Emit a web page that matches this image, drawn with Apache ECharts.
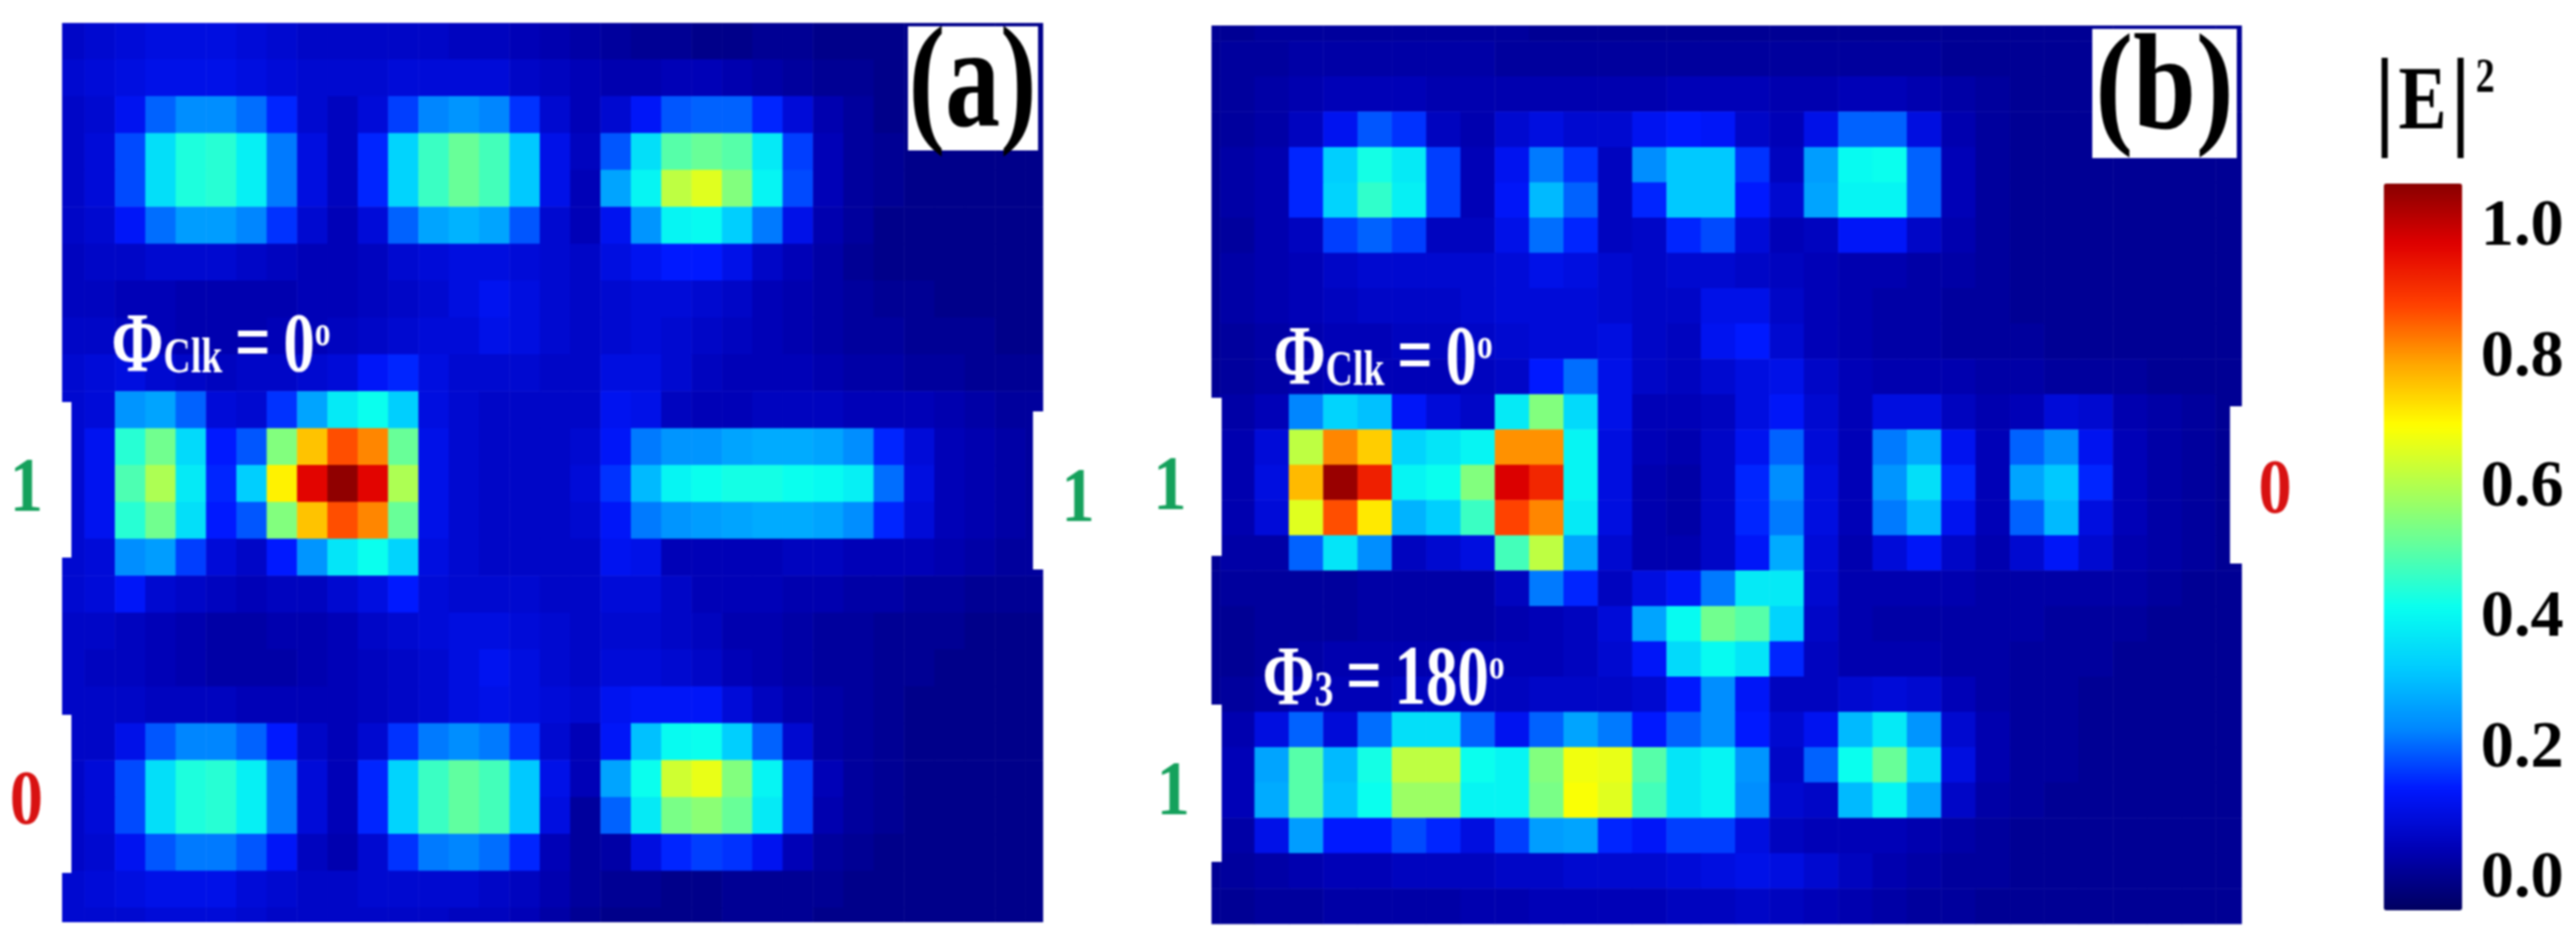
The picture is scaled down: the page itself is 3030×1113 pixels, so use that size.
<!DOCTYPE html>
<html>
<head>
<meta charset="utf-8">
<title>E field maps</title>
<style>
html, body { margin: 0; padding: 0; background: #fff; }
#chart { width: 3030px; height: 1113px; filter: blur(1px); }
</style>
<script src="https://cdn.jsdelivr.net/npm/echarts@6/dist/echarts.min.js"></script>
</head>
<body>
<div id="chart"></div>
<script>
// |E|^2, one list per row, top row first
var panelA = [
	[.07,.08,.09,.1,.1,.1,.09,.08,.07,.07,.07,.07,.07,.06,.06,.05,.04,.03,.02,.01,.01,0,0,.01,.01,0,0,0,0,0,0,0,0],
	[.08,.09,.1,.11,.11,.11,.1,.09,.08,.08,.08,.09,.09,.09,.09,.07,.06,.05,.04,.04,.05,.05,.04,.03,.02,.01,.01,0,0,0,0,0,0],
	[.07,.08,.12,.2,.24,.24,.21,.15,.08,.06,.09,.17,.23,.25,.23,.16,.08,.05,.08,.13,.19,.2,.2,.15,.09,.04,.02,0,0,0,0,0,0],
	[.07,.09,.18,.36,.44,.45,.39,.22,.1,.06,.15,.34,.47,.52,.48,.32,.11,.06,.19,.36,.5,.52,.5,.38,.17,.05,.02,.01,0,0,0,0,0],
	[.07,.09,.18,.36,.44,.45,.39,.22,.1,.06,.15,.34,.47,.52,.48,.32,.11,.05,.27,.4,.62,.66,.55,.4,.18,.05,.02,.01,0,0,0,0,0],
	[.07,.08,.13,.21,.26,.26,.23,.16,.08,.05,.09,.2,.27,.29,.27,.19,.08,.05,.12,.25,.4,.41,.33,.22,.11,.04,.02,0,0,0,0,0,0],
	[.06,.07,.07,.08,.08,.08,.07,.06,.05,.05,.06,.08,.09,.1,.1,.09,.08,.07,.1,.12,.14,.14,.11,.07,.05,.03,.01,0,0,0,0,0,0],
	[.06,.06,.05,.05,.04,.04,.04,.04,.05,.05,.06,.07,.08,.1,.12,.1,.08,.07,.08,.09,.09,.08,.07,.05,.04,.03,.02,.01,.01,0,0,0,0],
	[.07,.07,.06,.05,.04,.04,.04,.05,.05,.06,.07,.08,.09,.09,.11,.1,.08,.07,.08,.09,.08,.07,.06,.05,.04,.03,.02,.02,.01,.01,.01,0,0],
	[.08,.09,.1,.08,.07,.06,.07,.07,.08,.09,.13,.15,.1,.08,.08,.08,.07,.07,.1,.1,.08,.06,.05,.05,.05,.04,.03,.03,.02,.02,.01,.01,.01],
	[.08,.09,.25,.27,.2,.09,.08,.16,.27,.38,.42,.33,.1,.08,.07,.07,.07,.07,.12,.11,.06,.05,.05,.06,.06,.06,.05,.05,.05,.04,.03,.02,.02],
	[.08,.12,.45,.53,.35,.14,.19,.55,.76,.87,.82,.52,.11,.08,.07,.07,.07,.08,.13,.22,.25,.25,.27,.28,.28,.27,.24,.15,.09,.05,.04,.03,.02],
	[.08,.12,.49,.6,.38,.15,.33,.71,.97,1.06,.97,.6,.11,.08,.07,.07,.07,.09,.16,.3,.4,.42,.43,.43,.42,.41,.39,.21,.1,.05,.04,.03,.02],
	[.08,.12,.45,.53,.36,.14,.19,.55,.76,.87,.82,.52,.11,.08,.07,.07,.07,.08,.13,.22,.25,.26,.27,.28,.28,.27,.24,.15,.09,.05,.04,.03,.02],
	[.08,.09,.24,.26,.17,.09,.07,.14,.25,.37,.42,.34,.1,.08,.07,.07,.07,.07,.12,.11,.05,.05,.05,.05,.06,.06,.05,.05,.05,.04,.03,.02,.02],
	[.08,.09,.13,.08,.07,.06,.05,.06,.06,.08,.1,.14,.09,.08,.08,.08,.07,.07,.09,.09,.07,.05,.05,.05,.04,.04,.03,.03,.02,.02,.01,.01,.01],
	[.07,.07,.06,.05,.04,.03,.03,.04,.04,.05,.07,.08,.09,.1,.1,.09,.08,.07,.08,.08,.07,.06,.04,.04,.03,.02,.02,.01,.01,.01,0,0,0],
	[.07,.06,.06,.05,.04,.03,.03,.03,.04,.05,.06,.07,.08,.1,.12,.1,.08,.07,.09,.09,.08,.07,.05,.04,.03,.02,.02,.01,.01,0,0,0,0],
	[.07,.07,.07,.06,.06,.06,.05,.05,.05,.05,.06,.07,.08,.1,.11,.1,.09,.08,.12,.13,.13,.13,.09,.06,.04,.03,.02,.01,0,0,0,0,0],
	[.07,.07,.11,.19,.23,.23,.2,.14,.07,.05,.08,.16,.22,.24,.22,.16,.08,.05,.13,.31,.41,.42,.33,.2,.08,.03,.02,.01,0,0,0,0,0],
	[.07,.09,.18,.36,.44,.45,.39,.22,.09,.05,.15,.34,.47,.51,.48,.32,.11,.05,.27,.42,.64,.67,.55,.4,.17,.05,.02,.01,0,0,0,0,0],
	[.07,.09,.18,.36,.44,.45,.39,.22,.09,.05,.15,.34,.47,.51,.48,.32,.1,.02,.2,.38,.54,.56,.52,.38,.17,.04,.02,.01,0,0,0,0,0],
	[.07,.08,.12,.19,.22,.22,.19,.13,.06,.04,.08,.16,.22,.23,.21,.15,.05,.02,.03,.1,.15,.17,.16,.12,.05,.02,.01,0,0,0,0,0,0],
	[.08,.09,.1,.11,.11,.11,.09,.08,.07,.07,.08,.08,.08,.08,.07,.06,.04,.02,.01,.01,0,0,.01,.01,.01,.01,0,0,0,0,0,0,0],
	[.08,.08,.08,.09,.09,.09,.08,.07,.07,.07,.07,.07,.07,.06,.06,.05,.03,.01,0,0,0,0,.01,.01,.01,0,0,0,0,0,0,0,0]
];
var panelB = [
	[.01,.01,.02,.02,.02,.02,.02,.02,.02,.02,.01,.01,.01,.01,.01,.01,.01,.01,.01,.01,.01,.01,.01,.01,.01,.01,.01,.01,.01,.01,.01],
	[.01,.02,.02,.03,.03,.03,.03,.03,.03,.02,.02,.02,.02,.02,.02,.02,.02,.02,.02,.02,.02,.02,.01,.01,.01,.01,.01,.01,.01,.01,.01],
	[.01,.02,.03,.04,.05,.05,.05,.04,.04,.04,.04,.04,.04,.04,.05,.05,.05,.04,.04,.05,.05,.04,.03,.02,.01,.01,.01,.01,.01,.01,.01],
	[.01,.02,.03,.06,.12,.19,.16,.06,.04,.08,.1,.08,.08,.12,.14,.13,.07,.05,.11,.2,.2,.1,.04,.02,.01,.01,.01,.01,.01,.01,.01],
	[.01,.03,.04,.15,.33,.43,.38,.17,.05,.12,.22,.16,.06,.24,.32,.32,.16,.06,.26,.41,.42,.2,.05,.02,.01,.01,.01,.01,.01,.01,.01],
	[.01,.03,.04,.15,.34,.46,.39,.17,.05,.13,.3,.2,.06,.15,.32,.32,.14,.08,.27,.4,.4,.2,.05,.02,.01,.01,.01,.01,.01,.01,.01],
	[.01,.02,.04,.06,.17,.2,.17,.06,.06,.11,.21,.15,.06,.07,.15,.18,.09,.05,.06,.13,.13,.07,.04,.02,.01,.01,.01,.01,.01,.01,.01],
	[.01,.03,.04,.05,.07,.08,.08,.08,.08,.09,.11,.1,.08,.07,.08,.08,.07,.06,.05,.04,.04,.03,.03,.02,.01,.01,.01,.01,.01,.01,.01],
	[.01,.03,.04,.05,.06,.07,.07,.07,.08,.09,.09,.09,.08,.07,.07,.11,.11,.07,.05,.04,.03,.03,.02,.02,.01,.01,.01,.01,.01,.01,.01],
	[.01,.02,.03,.04,.05,.05,.06,.06,.07,.08,.09,.09,.1,.07,.06,.12,.14,.08,.05,.04,.03,.03,.02,.02,.02,.01,.01,.01,.01,.01,.01],
	[.01,.02,.03,.04,.05,.05,.05,.05,.06,.07,.14,.21,.11,.07,.06,.08,.1,.11,.07,.05,.04,.04,.04,.03,.03,.02,.02,.02,.01,.01,.01],
	[.02,.03,.05,.23,.34,.31,.13,.09,.07,.38,.55,.35,.11,.05,.05,.06,.1,.13,.08,.05,.1,.1,.06,.04,.05,.09,.08,.04,.03,.02,.01],
	[.02,.04,.09,.62,.82,.75,.34,.37,.4,.81,.81,.4,.1,.05,.04,.07,.12,.2,.09,.05,.22,.28,.12,.05,.2,.24,.12,.05,.03,.02,.01],
	[.02,.04,.1,.77,1.05,.93,.4,.42,.55,.98,.92,.4,.1,.04,.03,.07,.15,.24,.1,.05,.25,.36,.15,.05,.27,.32,.15,.05,.03,.02,.01],
	[.02,.04,.09,.66,.87,.72,.29,.33,.47,.88,.82,.38,.1,.04,.03,.07,.15,.22,.1,.05,.22,.3,.12,.05,.2,.3,.1,.05,.03,.02,.01],
	[.01,.03,.03,.2,.37,.24,.06,.08,.1,.48,.62,.27,.08,.04,.04,.07,.13,.28,.09,.04,.09,.13,.07,.04,.08,.13,.08,.04,.03,.02,.01],
	[.01,.02,.02,.02,.02,.03,.03,.03,.03,.06,.22,.15,.06,.1,.13,.22,.38,.38,.08,.04,.04,.04,.04,.03,.03,.03,.03,.03,.02,.01,.01],
	[.01,.01,.02,.02,.02,.03,.03,.03,.03,.04,.05,.06,.09,.27,.41,.53,.5,.34,.07,.04,.03,.03,.03,.03,.03,.02,.02,.02,.01,.01,.01],
	[.01,.01,.02,.03,.04,.04,.04,.04,.05,.05,.05,.06,.08,.13,.35,.41,.37,.15,.06,.04,.04,.04,.03,.03,.02,.02,.02,.01,.01,.01,.01],
	[.01,.02,.03,.05,.05,.05,.06,.06,.06,.06,.07,.07,.07,.08,.14,.24,.13,.06,.06,.08,.09,.08,.05,.03,.02,.02,.01,.01,.01,.01,.01],
	[.02,.04,.1,.2,.09,.21,.36,.36,.2,.12,.2,.27,.22,.14,.2,.24,.14,.08,.12,.3,.38,.25,.08,.04,.02,.02,.01,.01,.01,.01,.01],
	[.02,.05,.27,.5,.3,.43,.62,.62,.42,.4,.55,.68,.67,.5,.37,.4,.25,.07,.2,.42,.52,.36,.1,.04,.02,.02,.01,.01,.01,.01,.01],
	[.02,.05,.28,.5,.31,.42,.58,.58,.4,.4,.54,.69,.66,.48,.37,.4,.24,.08,.07,.3,.4,.27,.07,.03,.02,.01,.01,.01,.01,.01,.01],
	[.02,.03,.11,.26,.14,.14,.18,.15,.1,.17,.26,.27,.15,.13,.17,.17,.1,.06,.05,.05,.05,.04,.03,.02,.01,.01,.01,.01,.01,.01,.01],
	[.01,.02,.03,.04,.05,.05,.06,.06,.06,.07,.07,.08,.08,.08,.09,.1,.11,.1,.08,.06,.04,.03,.02,.02,.01,.01,.01,.01,.01,.01,.01],
	[.01,.01,.02,.02,.03,.03,.03,.03,.04,.04,.05,.05,.05,.05,.06,.06,.07,.06,.05,.04,.03,.02,.02,.01,.01,.01,.01,.01,.01,.01,.01]
];
var barTicks = [0, 0.2, 0.4, 0.6, 0.8, 1.0];
var barMin = -0.047, barMax = 1.068; // the bar runs a little past its labels
var jetColors = ['#000060', '#0000b4', '#0018ff', '#0088ff', '#00ccff', '#08fff0', '#60ffa0',
	'#b0ff50', '#ffff00', '#ffa800', '#ff4000', '#e00000', '#880000'];

var serif = '"Liberation Serif", "Times New Roman", serif';
var GREEN = '#15a15c', RED = '#d81212';

function toCells(rows) { // [[col, row, value], ...]
	var cells = [];
	for(var r = 0; r < rows.length; r++) {
		for(var c = 0; c < rows[r].length; c++) {
			cells.push([c, r, rows[r][c]]);
		}
	}
	return cells;
}

function indexes(n) {
	var out = [];
	for(var i = 0; i < n; i++) out.push(i);
	return out;
}

function catAxis(n, idx, inverse) {
	return { type: 'category', gridIndex: idx, data: indexes(n), show: false, inverse: !!inverse };
}

function white(x, y, w, h) { // paper showing around the cropped maps
	return { type: 'rect', z: 50, shape: { x: x, y: y, width: w, height: h }, style: { fill: '#fff' } };
}

function word(text, x, y, size, color, scaleX) {
	return {
		type: 'text', z: 60, x: x, y: y, scaleX: scaleX || 1,
		style: { text: text, fill: color, font: 'bold ' + size + 'px ' + serif, textAlign: 'center', textVerticalAlign: 'middle' }
	};
}

function phase(sub, rest, sup, x, y) { // white phase label, sub and superscript as rich text
	var base = { fill: '#fff', fontFamily: serif, fontWeight: 'bold' };
	return {
		type: 'text', z: 60, x: x, y: y, scaleX: 0.74,
		style: {
			text: '{m|\u03a6}{s|' + sub + '}{m|' + rest + '}{o|' + sup + '}',
			textAlign: 'left', textVerticalAlign: 'middle',
			rich: {
				m: Object.assign({ fontSize: 100 }, base),
				s: Object.assign({ fontSize: 60, padding: [24, 0, 0, 0] }, base),
				o: Object.assign({ fontSize: 50, padding: [0, 0, 34, 0] }, base)
			}
		}
	};
}

var covers = [
	white(0, 0, 2700, 27), white(0, 0, 73, 1113), white(0, 1085, 1425, 28),
	white(1227, 0, 198, 1113), white(1425, 0, 1275, 30), white(1425, 1088, 1275, 25),
	white(2637, 0, 63, 1113),
	white(73, 473, 11, 183), white(73, 841, 11, 186), white(1215, 484, 12, 186),
	white(1425, 468, 12, 186), white(1425, 829, 12, 185), white(2623, 478, 14, 185),
	white(1068, 31, 153, 146), white(2461, 34, 170, 152)
];

var labels = [
	word('(a)', 1144, 104, 170, '#000', 0.76),
	word('(b)', 2546, 110, 160, '#000', 0.83),
	phase('Clk', '\u2009=\u20090', 'o', 131, 410),
	phase('Clk', '\u2009=\u20090', 'o', 1498, 425),
	phase('3', '\u2009=\u2009180', 'o', 1485, 802),
	word('1', 31, 577, 92, GREEN, 0.85),
	word('1', 1268, 589, 92, GREEN, 0.85),
	word('0', 31, 945, 92, RED, 0.85),
	word('1', 1376, 575, 92, GREEN, 0.85),
	word('1', 1380, 934, 92, GREEN, 0.85),
	word('0', 2676, 579, 92, RED, 0.85),
	{
		type: 'text', z: 60, x: 2864, y: 124, scaleX: 0.8,
		style: {
			text: '{b||}{e|E}{b||}{s|2}', textAlign: 'center', textVerticalAlign: 'middle',
			rich: {
				b: { fontSize: 130, fontFamily: serif, fontWeight: 'bold', fill: '#000' },
				e: { fontSize: 106, fontFamily: serif, fontWeight: 'bold', fill: '#000', padding: [0, 6, 0, 6] },
				s: { fontSize: 56, fontFamily: serif, fontWeight: 'bold', fill: '#000', padding: [0, 0, 60, 8] }
			}
		}
	}
];

var myChart = echarts.init(document.getElementById('chart'), null, { renderer: 'canvas' });
myChart.setOption({
	animation: false,
	backgroundColor: '#fff',
	grid: [
		{ left: 64, top: 26.5, width: 1178, height: 1085 },
		{ left: 1395, top: 7, width: 1252, height: 1080 },
		{ left: 2804, top: 216, width: 92, height: 855 }
	],
	xAxis: [
		catAxis(33, 0),
		catAxis(31, 1),
		{ type: 'value', gridIndex: 2, show: false, min: 0, max: 1 }
	],
	yAxis: [
		catAxis(25, 0, true),
		catAxis(26, 1, true),
		{
			type: 'value', gridIndex: 2, position: 'right', min: barMin, max: barMax,
			axisLine: { show: false }, axisTick: { show: false }, splitLine: { show: false },
			axisLabel: {
				customValues: barTicks, margin: 22, color: '#000',
				fontFamily: serif, fontWeight: 'bold', fontSize: 78,
				formatter: function(v) { return v.toFixed(1); }
			}
		}
	],
	visualMap: {
		type: 'continuous', seriesIndex: [0, 1], min: barMin, max: barMax,
		left: 2804, top: 216, itemWidth: 92, itemHeight: 855, padding: 0,
		calculable: false, hoverLink: false, text: ['', ''], showLabel: false,
		inRange: { color: jetColors }
	},
	series: [
		{ type: 'heatmap', xAxisIndex: 0, yAxisIndex: 0, data: toCells(panelA), itemStyle: { borderWidth: 0 } },
		{ type: 'heatmap', xAxisIndex: 1, yAxisIndex: 1, data: toCells(panelB), itemStyle: { borderWidth: 0 } }
	],
	graphic: { elements: covers.concat(labels) }
});
</script>
</body>
</html>
